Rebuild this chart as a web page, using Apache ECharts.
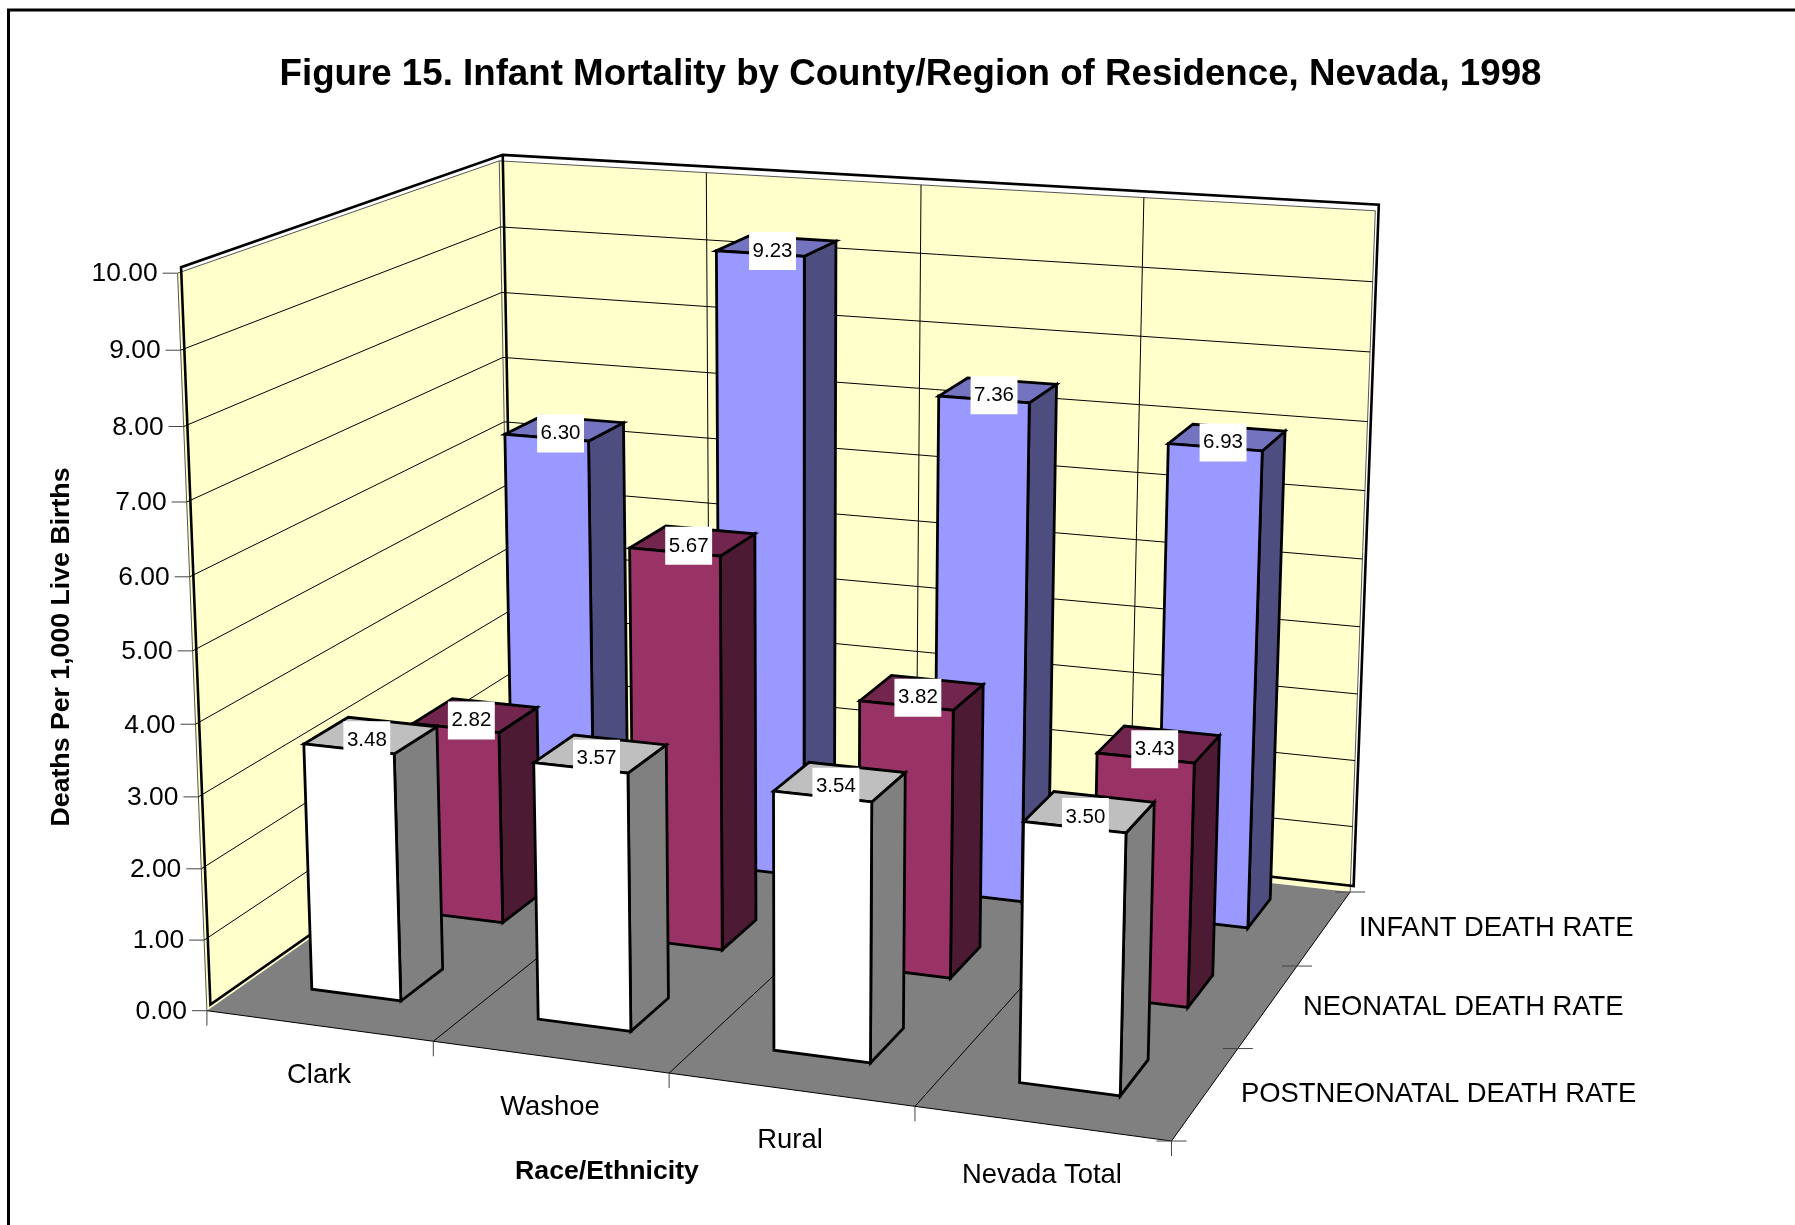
<!DOCTYPE html>
<html>
<head>
<meta charset="utf-8">
<style>html,body{margin:0;padding:0;background:#fff}#c{width:1795px;height:1225px}</style>
<script src="https://cdn.jsdelivr.net/npm/echarts@6/dist/echarts.min.js"></script>
</head>
<body>
<div id="c"></div>
<script>
// ---- data ----
const categories = ['Clark', 'Washoe', 'Rural', 'Nevada Total'];
const depthNames = ['POSTNEONATAL DEATH RATE', 'NEONATAL DEATH RATE', 'INFANT DEATH RATE'];
const postneonatal = [3.48, 3.57, 3.54, 3.50];
const neonatal = [2.82, 5.67, 3.82, 3.43];
const infant = [6.30, 9.23, 7.36, 6.93];
const yTicks = [0, 1, 2, 3, 4, 5, 6, 7, 8, 9, 10];
const titleText = 'Figure 15. Infant Mortality by County/Region of Residence, Nevada, 1998';
const yName = 'Deaths Per 1,000 Live Births';
const xName = 'Race/Ethnicity';

// ---- layout: projection of the chart's box (category, value, depth) onto the page ----
const FONT = '"Liberation Sans", Arial, sans-serif';
const GRID = {left: 0, top: 0, width: 1000, height: 1000};
const anchors = [
  [0, 0, 0, 207, 1009], [0, 10, 0, 177, 274], [0, 10, 3, 500, 160], [0, 0, 3, 511, 799],
  [4, 0, 3, 1350, 891], [4, 10, 3, 1375, 211], [4, 0, 0, 1172, 1142]
];
const BAR = {u0: -0.225, u1: 0.175, uStep: 0.0053, uShift: [0.01, 0.008, 0.003],
  d0: 0.39, d1: 0.79, dShift: [-0.025, -0.015, 0]};
const SHIFT = [3.5, -6];
const catLabelPos = [[319, 1075], [550, 1107], [790, 1140], [1042, 1175]];
const depthLabelPos = [[1359, 928], [1303, 1007], [1241, 1094]].reverse();

function solve(A, b) {
  const n = b.length;
  const M = A.map((r, i) => r.concat([b[i]]));
  for (let i = 0; i < n; i++) {
    let p = i;
    for (let k = i + 1; k < n; k++) if (Math.abs(M[k][i]) > Math.abs(M[p][i])) p = k;
    [M[i], M[p]] = [M[p], M[i]];
    for (let k = i + 1; k < n; k++) {
      const f = M[k][i] / M[i][i];
      for (let j = i; j <= n; j++) M[k][j] -= f * M[i][j];
    }
  }
  const x = new Array(n).fill(0);
  for (let i = n - 1; i >= 0; i--) {
    let s = M[i][n];
    for (let j = i + 1; j < n; j++) s -= M[i][j] * x[j];
    x[i] = s / M[i][i];
  }
  return x;
}
function fitCamera() {
  const rows = [], rhs = [];
  anchors.forEach(([u, v, d, px, py]) => {
    const X = u / 4, Y = v / 10, Z = d / 3, x = px / 1000, y = py / 1000;
    rows.push([X, Y, Z, 1, 0, 0, 0, 0, -x * X, -x * Y, -x * Z]); rhs.push(x);
    rows.push([0, 0, 0, 0, X, Y, Z, 1, -y * X, -y * Y, -y * Z]); rhs.push(y);
  });
  const N = 11;
  const AtA = Array.from({length: N}, () => new Array(N).fill(0));
  const Atb = new Array(N).fill(0);
  rows.forEach((r, k) => {
    for (let i = 0; i < N; i++) {
      Atb[i] += r[i] * rhs[k];
      for (let j = 0; j < N; j++) AtA[i][j] += r[i] * r[j];
    }
  });
  return solve(AtA, Atb);
}
const CAM = fitCamera();
function project(u, v, d) {
  const X = u / 4, Y = v / 10, Z = d / 3;
  const w = CAM[8] * X + CAM[9] * Y + CAM[10] * Z + 1;
  return [1000 * (CAM[0] * X + CAM[1] * Y + CAM[2] * Z + CAM[3]) / w,
          1000 * (CAM[4] * X + CAM[5] * Y + CAM[6] * Z + CAM[7]) / w];
}
// read category and value back out of the library's hidden axes
function axisU(api, cat) {
  return (api.coord([cat, 0])[0] - GRID.left) / GRID.width * categories.length;
}
function axisV(api, val) {
  return (GRID.top + GRID.height - api.coord([0, val])[1]) / GRID.height * 10;
}
const shifted = p => [p[0] + SHIFT[0], p[1] + SHIFT[1]];
const line = (a, b, stroke, lw, z2) => ({type: 'polyline', z2: z2 || 0, silent: true,
  shape: {points: [a, b]}, style: {stroke, lineWidth: lw, fill: null}});
const poly = (pts, fill, stroke, lw) => ({type: 'polygon', silent: true,
  shape: {points: pts}, style: {fill, stroke: stroke || null, lineWidth: lw || 0, lineJoin: 'miter'}});

function renderFrame(params, api) {
  const c = [];
  const P = project;
  const vMax = axisV(api, yTicks[yTicks.length - 1]);
  // walls
  c.push(poly([P(0, 0, 0), P(0, vMax, 0), P(0, vMax, 3), P(0, 0, 3)], '#FFFFCC'));
  c.push(poly([P(0, 0, 3), P(0, vMax, 3), P(4, vMax, 3), P(4, 0, 3)], '#FFFFCC'));
  // thin frame
  const thin = '#555';
  [[P(0, 0, 0), P(0, vMax, 0)], [P(0, vMax, 0), P(0, vMax, 3)], [P(0, vMax, 3), P(4, vMax, 3)],
   [P(4, vMax, 3), P(4, 0, 3)], [P(0, 0, 3), P(0, vMax, 3)]].forEach(s => c.push(line(s[0], s[1], thin, 1)));
  // wall gridlines
  yTicks.forEach(t => {
    const v = axisV(api, t);
    if (t > 0 && t < 10) {
      c.push(line(P(0, v, 0), P(0, v, 3), '#000', 1));
      c.push(line(P(0, v, 3), P(4, v, 3), '#000', 1));
    }
  });
  for (let i = 1; i < categories.length; i++) c.push(line(P(i, 0, 3), P(i, vMax, 3), '#000', 1));
  // thick wall outline
  const T = (u, v, d) => shifted(P(u, v, d));
  c.push({type: 'polyline', silent: true,
    shape: {points: [T(0, 0, 3), T(0, 0, 0), T(0, vMax, 0), T(0, vMax, 3), T(4, vMax, 3), T(4, 0, 3), T(0, 0, 3), T(0, vMax, 3)]},
    style: {stroke: '#000', lineWidth: 2.6, fill: null, lineJoin: 'miter'}});
  // floor
  c.push(poly([P(0, 0, 0), P(0, 0, 3), P(4, 0, 3), P(4, 0, 0)], '#808080', null, 0));
  c.push(line(P(0, 0, 0), P(4, 0, 0), '#000', 1));
  c.push(line(P(4, 0, 0), P(4, 0, 3), '#000', 1));
  for (let i = 1; i < categories.length; i++) c.push(line(P(i, 0, 0), P(i, 0, 3), '#000', 1));
  // category ticks
  for (let i = 0; i <= categories.length; i++) {
    const p = P(i, 0, 0);
    c.push(line(p, [p[0], p[1] + 15], '#444', 1));
  }
  // depth ticks
  for (let d = 0; d <= depthNames.length; d++) {
    const p = P(4, 0, d);
    c.push(line([p[0] - 15, p[1]], [p[0] + 15, p[1]], '#444', 1));
  }
  // value ticks and labels
  yTicks.forEach(t => {
    const p = P(0, axisV(api, t), 0);
    c.push(line([p[0] - 15, p[1]], p, '#444', 1));
    c.push({type: 'text', silent: true, style: {text: t.toFixed(2), x: p[0] - 20, y: p[1] + 1,
      fill: '#000', font: '26.4px ' + FONT, align: 'right', verticalAlign: 'middle'}});
  });
  return {type: 'group', children: c};
}

function barRenderer(depthIndex, front, side, top) {
  return function (params, api) {
    const cat = api.value(0), val = api.value(1);
    const uc = axisU(api, cat) + cat * BAR.uStep + BAR.uShift[depthIndex], v = axisV(api, val);
    const u0 = uc + BAR.u0, u1 = uc + BAR.u1;
    const d0 = depthIndex + BAR.d0 + BAR.dShift[depthIndex], d1 = depthIndex + BAR.d1 + BAR.dShift[depthIndex];
    const P = project;
    const lw = 2.8;
    const tc = P((u0 + u1) / 2, v, (d0 + d1) / 2);
    return {type: 'group', children: [
      poly([P(u1, 0, d0), P(u1, v, d0), P(u1, v, d1), P(u1, 0, d1)], side, '#000', lw),
      poly([P(u0, v, d0), P(u1, v, d0), P(u1, v, d1), P(u0, v, d1)], top, '#000', lw),
      poly([P(u0, 0, d0), P(u0, v, d0), P(u1, v, d0), P(u1, 0, d0)], front, '#000', lw),
      {type: 'text', silent: true, z2: 100, style: {text: val.toFixed(2), x: tc[0] - 4, y: tc[1] + 5,
        fill: '#000', font: '20.5px ' + FONT, align: 'center', verticalAlign: 'middle',
        backgroundColor: '#fff', padding: [9, 3.5, 8, 3.5]}}
    ]};
  };
}
const toRows = arr => arr.map((v, i) => [i, v]);

const chart = echarts.init(document.getElementById('c'), null, {renderer: 'canvas'});
chart.setOption({
  animation: false,
  backgroundColor: '#fff',
  title: {text: titleText, left: 905.5, top: 70, textAlign: 'center', textVerticalAlign: 'middle',
    textStyle: {fontFamily: FONT, fontSize: 36.7, fontWeight: 'bold', color: '#000'}},
  grid: {left: GRID.left, top: GRID.top, width: GRID.width, height: GRID.height, show: false},
  xAxis: {type: 'category', data: categories, show: false},
  yAxis: {type: 'value', min: 0, max: 10, interval: 1, show: false},
  graphic: [
    {type: 'polyline', silent: true, shape: {points: [[8.5, 1225], [8.5, 10], [1795, 10]]},
      style: {stroke: '#000', lineWidth: 3, fill: null}},
    {type: 'text', silent: true, rotation: Math.PI / 2, x: 62, y: 647,
      style: {text: yName, fill: '#000', font: 'bold 26.7px ' + FONT, align: 'center', verticalAlign: 'middle'}},
    {type: 'text', silent: true, x: 607, y: 1172,
      style: {text: xName, fill: '#000', font: 'bold 26.7px ' + FONT, align: 'center', verticalAlign: 'middle'}}
  ].concat(categories.map((t, i) => ({type: 'text', silent: true, x: catLabelPos[i][0], y: catLabelPos[i][1],
      style: {text: t, fill: '#000', font: '27.4px ' + FONT, align: 'center', verticalAlign: 'middle'}})))
   .concat(depthNames.map((t, i) => ({type: 'text', silent: true, x: depthLabelPos[i][0], y: depthLabelPos[i][1],
      style: {text: t, fill: '#000', font: '27.4px ' + FONT, align: 'left', verticalAlign: 'middle'}}))),
  series: [
    {type: 'custom', name: 'frame', coordinateSystem: 'cartesian2d', clip: false, silent: true,
      data: [[0, 0]], renderItem: renderFrame},
    {type: 'custom', name: depthNames[2], coordinateSystem: 'cartesian2d', clip: false, silent: true,
      data: toRows(infant), renderItem: barRenderer(2, '#9999FF', '#4D4D80', '#7373BF')},
    {type: 'custom', name: depthNames[1], coordinateSystem: 'cartesian2d', clip: false, silent: true,
      data: toRows(neonatal), renderItem: barRenderer(1, '#993366', '#4D1A33', '#73264D')},
    {type: 'custom', name: depthNames[0], coordinateSystem: 'cartesian2d', clip: false, silent: true,
      data: toRows(postneonatal), renderItem: barRenderer(0, '#FFFFFF', '#808080', '#BFBFBF')}
  ]
});
</script>
</body>
</html>
